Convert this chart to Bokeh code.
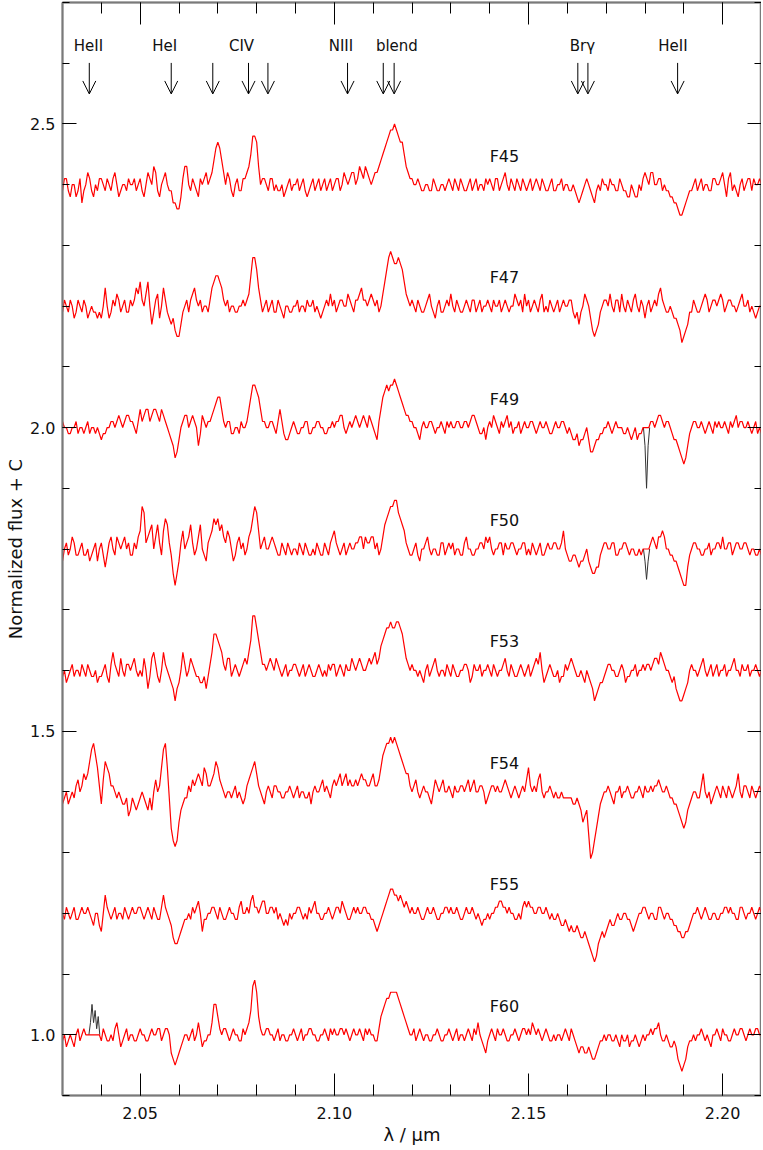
import numpy as np
from bokeh.plotting import figure
from bokeh.models import (LinearAxis, SingleIntervalTicker, NumeralTickFormatter,
                          Range1d, ColumnDataSource, Arrow, OpenHead)
from bokeh.core.properties import value
from bokeh.embed import file_html
from bokeh.resources import INLINE

# ---------------- data ----------------
# wavelength grid (micron), 0.0005 micron sampling from 2.030 to 2.210
wl = np.round(np.linspace(2.030, 2.210, 361), 5)

# spectra: deviation from continuum in percent (flux = 1 + d/100 + C)
f45 = [-1,1,1,-1,-2,0,0,-2,-1,1,-3,-1,0,2,1,-1,-2,0,-1,1,
       1,0,-1,1,0,-1,1,2,0,-2,-1,0,0,-1,1,0,0,1,-1,0,
       1,-1,-2,0,2,1,0,3,2,-1,-2,0,1,2,0,-1,-1,-3,-3,-4,
       -4,-2,1,3,3,0,-1,1,0,-1,-2,1,0,1,2,0,1,2,4,6,
       7,6,4,2,0,2,1,-1,-2,0,1,-1,-1,1,1,2,3,5,8,8,
       7,3,0,1,1,0,-1,1,1,-1,0,-1,-1,0,-2,-1,0,1,-1,0,
       0,1,-1,0,1,-1,-2,-1,0,1,-1,0,1,-1,0,1,-1,0,1,-1,
       0,1,1,-1,0,2,1,0,1,2,2,0,1,3,2,1,3,2,1,0,
       1,2,2,3,4,5,6,7,8,9,9,10,9,8,7,7,5,3,2,1,
       1,0,0,1,0,-1,-1,0,0,-1,-1,1,0,-1,-1,0,0,-1,0,1,
       0,-1,1,0,-1,1,0,-1,-1,0,1,-1,0,1,-1,0,0,-1,1,0,
       1,0,-1,1,1,-1,0,1,2,0,-1,1,0,-1,1,0,-1,1,0,-1,
       0,1,-1,0,1,0,-1,1,0,-1,-1,0,1,-1,-1,0,0,1,-1,0,
       0,-1,-1,0,-1,-2,-3,-2,-1,0,1,0,-1,-2,-3,-1,0,-1,1,0,
       0,-1,1,0,0,-1,-1,1,0,-1,-1,-2,-2,0,-1,-2,-2,0,-1,1,
       2,1,0,2,2,0,0,1,1,-1,0,-1,-1,-2,-2,-3,-3,-4,-5,-5,
       -4,-3,-2,-1,-1,0,1,-1,0,1,-1,0,0,-1,-1,1,1,0,0,1,
       2,0,-2,1,2,-1,0,-1,-2,0,1,-1,0,1,1,-1,1,0,0,1,
       0]
f47 = [-1,1,0,-1,1,0,-2,-1,1,0,-1,1,0,-2,-1,0,-1,-1,-2,-1,
       -2,0,3,0,-2,-1,1,0,2,1,-1,0,1,-1,-1,1,0,1,3,2,
       4,1,0,2,4,0,-3,-1,1,2,-2,0,3,1,-1,-2,-3,-2,-4,-5,
       -5,-3,-1,0,1,-1,1,2,3,1,0,1,-1,0,0,-1,1,3,4,5,
       5,4,3,1,0,1,-1,0,0,-1,-1,0,0,1,0,1,2,5,8,8,
       6,3,1,-1,0,1,-1,0,1,-1,-1,1,0,-1,-2,0,0,-1,-1,0,
       0,1,-1,0,0,-1,1,0,0,1,-1,0,-1,-2,-1,0,1,0,2,0,
       1,-1,0,1,1,0,0,2,1,0,-1,1,1,2,3,1,1,0,1,2,
       1,0,1,-1,0,2,4,6,8,9,8,7,7,8,7,6,4,2,1,0,
       1,0,-1,1,0,-1,-1,0,1,2,0,-1,-2,0,1,-1,-1,0,1,0,
       2,0,-1,1,0,-1,-1,0,1,0,-1,1,1,-1,0,1,-1,0,0,1,
       0,-1,1,0,0,1,-1,0,1,0,-1,0,0,2,1,0,1,-1,2,0,
       1,-1,0,1,0,-1,1,2,-1,0,-1,1,0,-1,0,1,-1,0,1,0,
       0,1,1,-1,-2,-1,-3,-1,0,2,1,0,-2,-4,-5,-4,-3,-1,0,1,
       1,0,2,0,-1,1,1,-1,2,0,-1,1,0,-1,1,2,0,-1,1,0,
       -2,0,1,-1,0,1,0,2,3,1,0,-1,-1,0,-1,-2,-2,-3,-4,-6,
       -5,-4,-3,-1,-1,1,0,-1,-1,0,1,2,1,-1,0,1,1,0,1,2,
       1,-1,0,1,1,0,0,-1,0,1,2,0,0,1,-1,0,-1,-2,-1,0,
       0]
f49 = [1,0,0,-1,-1,0,0,1,-1,0,0,-1,0,1,-1,0,0,-1,0,-1,
       -2,-1,-1,0,0,1,1,0,1,2,1,0,1,2,2,1,1,0,-1,1,
       3,1,2,3,3,1,2,3,3,2,1,3,2,1,0,-1,-2,-3,-5,-4,
       -2,0,1,2,2,0,1,2,1,0,-3,-1,2,1,0,1,1,2,3,4,
       5,5,3,1,0,1,1,-1,-1,0,0,-1,1,0,0,1,3,5,7,7,
       6,5,3,1,1,0,0,1,1,0,-1,1,3,1,-1,-2,-2,-1,0,1,
       0,-1,-1,0,0,1,1,-1,-1,0,0,1,1,0,0,-1,-1,0,0,1,
       0,1,1,2,2,0,-1,0,1,0,1,2,1,0,1,2,1,0,2,1,
       0,-1,-2,1,3,5,6,7,6,7,7,8,7,6,5,4,3,2,2,1,
       1,0,0,-1,-2,0,1,0,0,1,1,0,-1,0,0,1,0,-1,1,0,
       1,0,0,1,1,0,0,1,1,0,1,2,2,1,0,-1,-1,0,-2,0,
       1,0,2,1,0,-1,1,0,1,2,0,1,-1,0,0,1,-1,0,1,0,
       0,1,1,0,-1,0,1,0,0,1,0,-1,-1,0,1,0,0,1,1,0,
       -1,0,-1,-2,-2,-1,-3,-2,-2,-1,0,-2,-4,-4,-3,-2,-2,-1,-1,0,
       0,1,0,-1,0,1,0,0,0,-1,-1,0,-1,-2,-1,0,-2,-1,-1,0,
       0,0,0,1,1,0,1,2,2,1,0,1,1,0,-1,-2,-2,-3,-4,-5,
       -6,-5,-3,-1,0,1,1,0,0,1,0,-1,0,1,0,-1,1,0,1,0,
       0,1,0,-1,1,0,1,2,0,1,1,0,0,1,0,-1,0,1,-1,0,
       -1]
f50 = [-2,0,1,-1,0,2,1,-1,-1,0,1,-1,-1,0,-2,-1,0,1,-2,0,
       1,-1,-3,-1,1,2,0,-1,2,1,0,1,2,0,1,-1,-1,1,0,2,
       3,7,6,1,2,3,4,0,2,4,1,-1,3,5,4,1,-1,-4,-6,-4,
       -2,1,3,0,1,2,4,1,-1,0,2,4,0,-1,-2,1,2,3,5,4,
       5,3,4,2,1,3,2,0,-2,-1,1,2,0,1,-1,0,2,3,5,7,
       6,3,0,1,2,0,0,1,2,1,0,-1,-1,1,0,-1,1,0,-1,0,
       0,-1,1,0,-1,1,0,-1,-1,0,-1,1,0,-1,-1,1,0,-1,1,2,
       3,1,0,-1,0,1,-1,0,1,0,0,1,1,2,2,0,2,1,1,2,
       2,0,1,-1,0,2,4,5,6,7,7,8,8,6,5,4,3,1,0,-1,
       -1,0,1,-1,-2,0,0,1,2,0,-1,0,0,-1,-1,1,1,-1,0,1,
       0,1,-1,0,0,-1,-1,1,2,0,0,-1,-1,0,0,1,1,0,2,1,
       2,0,-1,0,0,1,1,-1,1,0,0,1,1,0,-1,0,0,1,1,-1,
       0,-1,1,0,-1,0,1,-1,-1,0,1,0,0,1,1,0,0,1,3,0,
       -1,-2,-2,-1,-1,-2,-3,-2,-2,-1,0,-2,-3,-4,-4,-3,-3,-1,0,1,
       1,0,0,1,1,-1,-1,0,0,1,1,0,-1,0,0,-1,-1,0,-1,0,
       0,0,0,1,2,1,0,2,2,3,2,0,0,-1,-1,-2,-2,-3,-4,-5,
       -6,-6,-3,-1,0,1,1,0,0,-1,-1,0,0,1,-1,0,0,1,1,0,
       2,0,0,1,1,-1,0,1,1,0,0,1,1,0,-1,0,0,-1,-1,0,
       -1]
f53 = [-1,0,-2,-1,0,1,-1,0,0,-1,1,0,-1,1,0,-1,-1,0,-2,-1,
       -1,0,1,-1,-2,1,3,1,0,-1,2,0,-1,1,1,0,1,2,0,-1,
       0,-1,2,0,-3,-1,2,3,1,-1,-2,0,3,1,0,-1,-2,-3,-5,-3,
       -2,0,3,1,-1,0,2,1,0,-1,-1,-2,-2,-1,-3,-1,1,3,6,6,
       5,4,3,1,0,2,2,-1,0,1,0,-1,0,1,2,1,3,5,9,9,
       7,5,3,1,1,0,1,2,1,0,2,1,0,-1,0,1,-1,0,0,1,
       1,0,-1,0,1,-1,0,1,0,-1,-1,0,1,0,-1,0,-1,1,0,1,
       1,-1,0,1,0,-1,1,0,0,2,1,0,1,2,1,0,0,1,2,1,
       2,3,1,2,4,5,6,7,7,8,7,7,8,8,7,6,4,2,1,0,
       1,0,0,-1,0,-1,-2,0,1,-1,0,1,2,0,-1,0,0,-1,1,0,
       -1,1,0,-1,-1,0,0,1,1,0,-2,-1,1,0,0,1,-1,0,0,1,
       0,-1,1,0,-1,0,0,1,2,0,-1,1,0,-1,-1,0,1,0,-1,0,
       1,-1,0,1,2,1,3,0,-2,-1,0,1,0,-1,-1,0,-2,-1,-1,1,
       0,1,2,1,0,-1,-1,0,-1,-2,0,-1,-2,-3,-5,-4,-3,-2,-2,-1,
       0,1,1,0,0,-1,-1,0,1,0,-2,-1,-1,0,0,1,-1,0,0,1,
       0,1,1,0,1,2,2,1,3,2,1,0,0,-1,-2,-1,-3,-4,-5,-5,
       -4,-3,-2,0,1,0,0,-1,0,1,2,0,-1,0,1,-1,0,1,-1,0,
       0,1,-1,0,0,1,2,0,0,-1,1,0,0,1,-1,0,0,1,0,-1,
       0]
f54 = [-2,-1,0,-2,-1,0,-1,1,2,0,1,3,2,3,5,7,8,6,4,1,
       -2,2,5,4,3,1,1,0,-1,0,-1,-2,-2,-1,-4,-3,-1,-2,-3,-2,
       -1,0,-1,-2,-3,-1,-3,0,2,0,1,4,7,8,4,-1,-6,-8,-9,-8,
       -5,-3,-2,-1,-1,1,0,2,1,2,3,2,1,4,3,1,1,2,3,5,
       4,2,1,0,-1,0,0,-1,0,1,-1,0,-1,-2,-1,1,2,3,4,5,
       3,1,0,-1,-2,0,1,0,-1,1,1,0,0,-1,-1,0,0,1,0,-1,
       0,1,-1,0,0,-1,-1,0,-2,0,1,0,0,1,2,0,1,0,-1,1,
       2,1,2,3,1,2,3,1,2,1,1,2,1,2,3,2,2,1,1,2,
       3,1,1,2,4,6,7,8,8,9,8,9,8,7,6,5,4,3,3,1,
       0,1,2,0,-1,0,1,0,0,-1,-2,0,2,1,0,1,2,0,0,1,
       0,-1,1,0,0,1,1,0,1,2,0,1,2,0,0,1,1,0,-2,-1,
       0,1,1,0,1,0,0,1,2,1,0,-1,0,1,0,-1,0,1,0,2,
       4,1,0,1,0,2,3,0,-1,0,0,1,0,-1,0,-1,-1,0,-1,-1,
       -1,-1,-1,-2,-2,-1,-2,-3,-5,-4,-3,-7,-11,-10,-8,-6,-4,-2,-1,0,
       0,1,0,-1,-2,0,0,1,-1,0,0,1,0,-1,-1,0,0,1,0,-1,
       1,0,0,1,0,1,1,2,1,0,0,1,0,-1,-1,-2,-2,-3,-4,-5,
       -6,-5,-3,-2,-1,0,0,-1,-1,1,3,0,-1,0,-2,-1,0,1,0,-1,
       1,0,-1,1,0,-1,0,1,3,0,-1,1,1,0,-1,1,0,-1,0,1,
       0]
f55 = [0,-1,1,0,-1,0,1,-1,-1,0,1,0,0,1,0,-1,-2,0,0,-2,
       -3,0,3,1,0,-1,0,1,-1,0,0,-1,1,0,-1,0,1,0,0,1,
       1,0,-1,0,1,0,-1,1,0,-1,-1,1,3,1,0,-1,-2,-4,-5,-5,
       -4,-3,-2,-1,-1,0,-1,1,0,1,2,0,-3,-1,-1,0,0,1,1,0,
       -1,1,0,-1,-1,0,1,0,0,-1,-1,1,2,0,0,1,0,2,3,1,
       1,0,1,2,2,0,0,1,1,0,1,-1,0,-1,-2,-1,-2,0,-1,0,
       0,1,1,0,-1,0,-1,1,0,1,2,0,0,-1,-1,0,0,1,0,-1,
       0,1,1,0,2,1,0,-1,-1,0,1,0,1,0,0,1,1,0,0,-1,
       -1,-2,-3,-2,-1,0,1,2,3,4,4,3,3,2,3,2,1,2,1,0,
       1,0,0,1,0,-1,-1,0,1,0,0,1,0,-1,-1,0,0,1,1,0,
       1,0,0,1,0,-1,-1,0,1,0,0,1,0,-1,0,-1,-2,-1,-1,0,
       -1,0,0,1,1,2,2,1,1,0,1,0,0,-1,-1,0,-1,1,2,1,
       2,1,1,0,0,1,1,0,0,1,0,-1,0,-1,-1,0,-1,-2,-2,-1,
       -2,-3,-2,-3,-3,-2,-3,-4,-4,-3,-4,-5,-6,-7,-8,-7,-5,-4,-3,-4,
       -3,-2,-1,-2,-2,-1,0,-1,-1,0,0,-1,-1,-2,-3,-2,-1,0,0,1,
       1,0,-1,0,0,-1,-1,1,1,0,-1,0,0,-1,-1,-2,-2,-3,-3,-4,
       -4,-3,-3,-2,-1,0,0,1,0,-1,0,1,0,-1,-1,0,0,-1,-1,0,
       0,1,1,0,1,0,0,-1,-1,1,1,0,-1,0,0,1,0,-1,0,1,
       0]
f60 = [-1,0,-2,-1,0,-1,-2,0,1,-1,0,1,0,0,0,0,0,0,0,0,
       -1,1,0,-1,-1,0,-1,1,2,0,-2,-1,0,1,-1,0,0,-1,-1,0,
       1,0,0,-1,-1,0,1,0,0,1,1,-1,0,1,1,0,-3,-4,-5,-4,
       -3,-2,-1,0,0,-1,0,1,-1,0,2,0,-2,-1,-1,0,0,2,5,5,
       3,1,0,1,1,0,-1,0,1,0,0,-1,-1,1,0,1,2,4,8,9,
       7,3,1,0,0,1,1,0,0,-1,0,1,-1,0,0,-1,-1,0,0,1,
       0,-1,0,1,-1,0,0,1,1,0,0,-1,-1,0,0,1,0,-1,1,0,
       1,0,0,1,1,0,1,0,-1,0,1,0,0,1,0,-1,1,0,1,0,
       0,-1,-1,1,3,4,5,6,6,7,7,7,7,6,5,4,3,2,1,0,
       0,1,-1,0,1,0,-1,0,0,-1,-1,0,0,1,0,-1,-1,0,0,1,
       0,-1,0,1,-1,0,0,-1,0,1,0,-1,1,0,2,0,-1,-2,-3,-1,
       0,1,0,-1,1,0,0,1,0,-1,-1,0,0,1,0,-1,0,1,1,0,
       1,0,2,1,0,1,0,-1,0,1,0,-1,-1,0,-1,0,0,-1,0,1,
       0,-1,1,0,-1,-2,-3,-2,-2,-3,-3,-2,-3,-4,-4,-3,-2,-1,-1,0,
       -1,0,0,-1,-1,0,-1,-2,0,-1,-1,0,-2,-1,-1,0,-1,-2,-1,0,
       -1,0,0,1,0,1,1,2,0,-1,-1,0,-1,-2,-2,-1,-2,-4,-5,-6,
       -5,-4,-2,-1,-1,0,-1,0,0,1,0,-1,0,-1,-2,0,0,1,0,-1,
       1,0,0,-1,-1,0,1,0,0,1,1,0,-1,0,1,0,0,1,1,0,
       0]

names = ["F45", "F47", "F49", "F50", "F53", "F54", "F55", "F60"]
offsets = [1.4, 1.2, 1.0, 0.8, 0.6, 0.4, 0.2, 0.0]
spectra = [f45, f47, f49, f50, f53, f54, f55, f60]

# masked parts of the raw spectra (drawn black), percent deviation
mask60_wl = [2.0368, 2.0372, 2.0376, 2.0380, 2.0384, 2.0388, 2.0392, 2.0396]
mask60_pct = [0, 2, 5, 2, 4, 1, 3, 0]
mask49_wl = [2.1796, 2.1800, 2.1804, 2.1808, 2.1812]
mask49_pct = [0, -3, -10, -3, 0]
mask50_wl = [2.1796, 2.1800, 2.1804, 2.1808, 2.1812]
mask50_pct = [0, -2, -5, -2, 0]

# line identifications
line_wl = [2.0369, 2.0580, 2.0687, 2.0779, 2.0829, 2.1034, 2.1126, 2.1154, 2.1627, 2.1653, 2.1884]
id_text = ["HeII", "HeI", "CIV", "NIII", "blend", "Br\u03b3", "HeII"]
id_wl = [2.0367, 2.0563, 2.0761, 2.1017, 2.1161, 2.1639, 2.1872]

for s in spectra:
    assert len(s) == len(wl), len(s)

# ---------------- figure ----------------
FONT = "DejaVu Sans"
AXC = "#7a7a7a"

p = figure(frame_width=699, frame_height=1093,
           x_range=Range1d(2.03, 2.21), y_range=Range1d(0.90, 2.70),
           output_backend="svg", toolbar_location=None,
           min_border_left=62, min_border_right=0, min_border_top=2, min_border_bottom=0,
           x_axis_label="\u03bb / \u03bcm", y_axis_label="Normalized flux + C")
p.grid.visible = False
p.background_fill_color = "white"
p.border_fill_color = "white"
p.outline_line_color = AXC
p.outline_line_width = 1.5

def style_axis(ax, major_in, minor_in, show_labels, fmt):
    ax.axis_line_color = AXC
    ax.axis_line_width = 2
    ax.major_tick_line_color = "black"
    ax.minor_tick_line_color = "black"
    ax.major_tick_in = major_in
    ax.major_tick_out = 0
    ax.minor_tick_in = minor_in
    ax.minor_tick_out = 0
    ax.formatter = NumeralTickFormatter(format=fmt)
    if show_labels:
        ax.major_label_text_font = FONT
        ax.major_label_text_font_size = "16px"
        ax.major_label_text_color = "#111111"
        ax.axis_label_text_font = FONT
        ax.axis_label_text_font_size = "18px"
        ax.axis_label_text_font_style = "normal"
        ax.axis_label_text_color = "#111111"
    else:
        ax.major_label_text_font_size = "1px"
        ax.major_label_text_color = None
        ax.major_label_standoff = 0

xa = p.xaxis[0]
xa.ticker = SingleIntervalTicker(interval=0.05, num_minor_ticks=5)
style_axis(xa, 22, 11, True, "0.00")
xa.major_label_standoff = 11
xa.axis_label_standoff = 2

ya = p.yaxis[0]
ya.ticker = SingleIntervalTicker(interval=0.5, num_minor_ticks=5)
style_axis(ya, 14, 7, True, "0.0")
ya.major_label_standoff = 7
ya.axis_label_standoff = 1

top = LinearAxis(ticker=SingleIntervalTicker(interval=0.05, num_minor_ticks=5))
style_axis(top, 22, 11, False, "0.00")
p.add_layout(top, "above")
right = LinearAxis(ticker=SingleIntervalTicker(interval=0.5, num_minor_ticks=5))
style_axis(right, 14, 7, False, "0.0")
p.add_layout(right, "right")

# masked raw pieces (black) under the red spectra
for mwl, mpct, off in [(mask60_wl, mask60_pct, 0.0), (mask49_wl, mask49_pct, 1.0),
                       (mask50_wl, mask50_pct, 0.8)]:
    p.line(mwl, [1 + d / 100 + off for d in mpct], line_color="#333333", line_width=1)

# spectra
for name, off, s in zip(names, offsets, spectra):
    flux = [1 + d / 100 + off for d in s]
    p.line(wl, flux, line_color="#ff0000", line_width=1.2)

# spectrum labels
lab_src = ColumnDataSource(dict(x=[2.140] * len(names),
                                y=[o + 1.047 for o in offsets], t=names))
p.text(x="x", y="y", text="t", source=lab_src, text_font=value(FONT),
       text_font_size="16px", text_color="#111111", text_align="left",
       text_baseline="middle")

# line identification arrows and labels
arr_src = ColumnDataSource(dict(x0=line_wl, y0=[2.6005] * len(line_wl),
                                x1=line_wl, y1=[2.5494] * len(line_wl)))
p.add_layout(Arrow(end=OpenHead(size=13, line_width=1, line_color="black"),
                   x_start="x0", y_start="y0", x_end="x1", y_end="y1",
                   source=arr_src, line_width=1, line_color="black"))
id_src = ColumnDataSource(dict(x=id_wl, y=[2.6277] * len(id_wl), t=id_text))
p.text(x="x", y="y", text="t", source=id_src, text_font=value(FONT),
       text_font_size="15px", text_color="#111111", text_align="center",
       text_baseline="middle")

open("out.html", "w").write(file_html(p, INLINE))
